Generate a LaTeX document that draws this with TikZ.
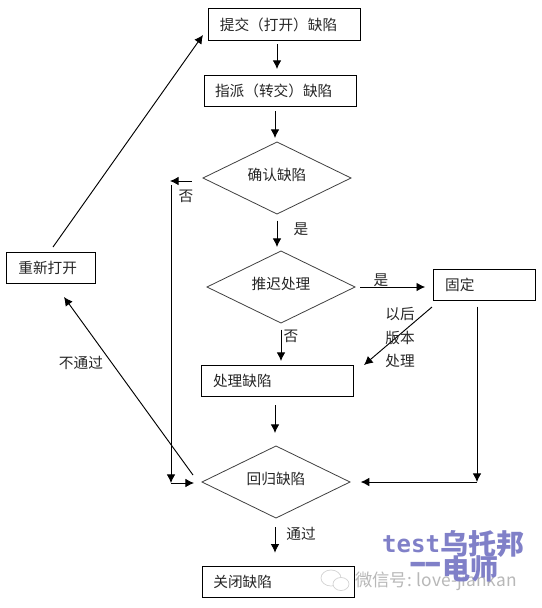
\documentclass[tikz,border=0pt]{standalone}
\usepackage{fontspec}
\setmainfont{Noto Sans CJK SC}
\newfontfamily\wmono{DejaVu Sans Mono}
\usetikzlibrary{shapes.geometric,arrows.meta}
\definecolor{wmblue}{HTML}{8080C8}
\newcommand{\dtxt}[1]{\raisebox{5pt}{#1}}
\newcommand{\btxt}[1]{\raisebox{-3pt}{#1}}
\tikzset{
  x=0.75pt,y=-0.75pt,
  every node/.style={inner sep=0pt,outer sep=0pt},
  txt/.style={font=\fontsize{11}{13}\selectfont,text=black!85},
  boxn/.style={draw=black,line width=0.7pt,rectangle,minimum height=23.5pt,font=\fontsize{11}{13}\selectfont,text=black!85,align=left},
  dia/.style={draw=black!75,line width=0.6pt,diamond,aspect=2.05,minimum width=111pt,minimum height=54pt,font=\fontsize{11}{13}\selectfont,text=black!85},
  arr/.style={draw=black,line width=0.7pt,-{Latex[length=6.5pt,width=6.5pt]}},
  plain/.style={draw=black,line width=0.7pt},
  wmb/.style={font=\bfseries\fontsize{21}{23}\selectfont,text=wmblue},
}
\begin{document}
\begin{tikzpicture}
\useasboundingbox (0,0) rectangle (542,608);
\fill[white] (0,0) rectangle (542,608);
% watermark icon
\draw[black!18,line width=0.5pt] (331,578) ellipse (10 and 8);
\draw[black!18,line width=0.5pt,fill=white] (341,584) ellipse (8 and 6.5);
% boxes
\node[boxn,minimum width=114.5pt,text width=97pt] (submit) at (284.5,24.5) {提交（打开）缺陷};
\node[boxn,minimum width=114pt,text width=97.5pt] (assign) at (280,91) {指派（转交）缺陷};
\node[dia] (confirm) at (277,178) {\dtxt{确认缺陷}};
\node[dia] (defer) at (281,287) {\dtxt{推迟处理}};
\node[boxn,minimum width=77pt,text width=59pt] (fixed) at (484.5,285) {\btxt{固定}};
\node[boxn,minimum width=114pt,text width=96pt] (handle) at (277,381) {\btxt{处理缺陷}};
\node[dia] (regress) at (276,482) {\dtxt{回归缺陷}};
\node[boxn,minimum width=114pt,text width=97pt] (close) at (278,582) {\btxt{关闭缺陷}};
\node[boxn,minimum width=67pt,text width=49pt] (reopen) at (51,268) {\btxt{重新打开}};
% free-end helpers
\coordinate (cornerB) at (171,483);
\coordinate (fixedD) at (477,482);
% connectors
\draw[arr,shorten <=3pt,shorten >=4.5pt] (277,40) -- (277,75);
\draw[arr,shorten <=3pt,shorten >=3pt] (275,107) -- (275,142);
\draw[arr,shorten <=5pt,shorten >=3pt] (277,214) -- (277,251);
\draw[arr,shorten <=5pt,shorten >=3pt] (281,323) -- (281,365);
\draw[arr,shorten <=6pt,shorten >=9pt] (275,397) -- (275,445);
\draw[arr,shorten <=7pt,shorten >=10pt] (275,518) -- (275,566);
\draw[arr,shorten <=4pt,shorten >=6pt] (defer.east) -- (fixed.west |- defer.east);
\draw[arr,shorten <=4.5pt] (fixedD |- fixed.south) -- (fixedD);
\draw[arr,shorten >=8pt] (fixedD) -- (regress.east |- fixedD);
\draw[arr] (432,307) -- (364,365);
\draw[arr,shorten <=8.5pt] (confirm.west |- 0,181) -- (170,181);
\draw[arr] (171,185) -- (cornerB);
\draw[arr,shorten >=6pt] (cornerB) -- (regress.west |- cornerB);
\draw[arr] (193,475) -- (64,297);
\draw[arr] (53,247) -- (203,35);
% labels
\node[txt] (l1) at (186,196) {否};
\node[txt] (l2) at (301,229) {是};
\node[txt] (l3) at (381,280) {是};
\node[txt] (l4) at (291,336) {否};
\node[txt] (l5) at (400,314) {以后};
\node[txt] (l6) at (400,338) {版本};
\node[txt] (l7) at (400,361) {处理};
\node[txt] (l8) at (81,363) {不通过};
\node[txt] (l9) at (301,534) {通过};
% watermark
\node[text=black!28,font=\fontsize{13}{15}\selectfont,anchor=west] (wm3) at (355,581) {微信号: love-jiankan};
\node[font=\wmono\bfseries\fontsize{18}{20}\selectfont,text=wmblue,anchor=east] (wm1) at (440,544) {test};
\node[wmb,anchor=west] (wm1b) at (440,544) {乌托邦};
\node[wmb,anchor=east] (wm2b) at (498,569) {电师};
\node[wmb,anchor=east] (wm2) at (441,569) {\scalebox{0.55}[1]{一一}};
\end{tikzpicture}
\end{document}
